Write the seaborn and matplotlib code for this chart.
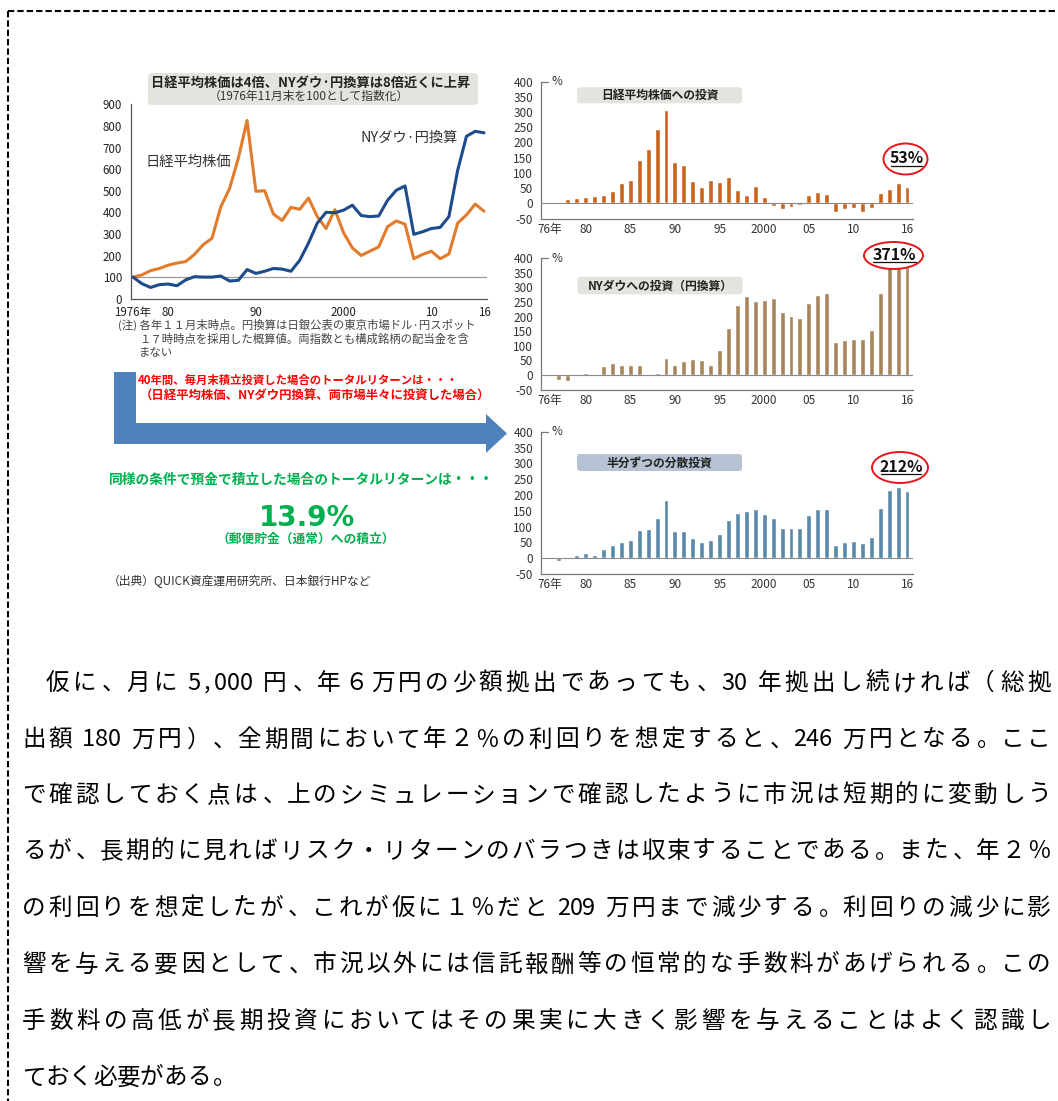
# -*- coding: utf-8 -*-
import numpy as np
import pandas as pd
import matplotlib
matplotlib.use('Agg')
import matplotlib.pyplot as plt
from matplotlib.patches import Ellipse, FancyBboxPatch, Polygon
import seaborn as sns

# ---- data -------------------------------------------------------------
years = list(range(1976, 2017))

# index, Nov 1976 = 100
nikkei_idx = [100, 110, 130, 140, 155, 165, 172, 205, 250, 280, 425, 510, 650, 825,
              497, 500, 392, 362, 423, 414, 466, 380, 325, 412,
              305, 235, 200, 220, 240, 333, 360, 345, 185, 205,
              220, 185, 207, 350, 388, 438, 405]
ny_idx = [100, 70, 52, 65, 68, 60, 87, 102, 100, 100, 105, 82, 85, 135,
          117, 127, 140, 137, 127, 178, 258, 350, 400, 398,
          410, 433, 385, 380, 383, 455, 502, 522, 298, 310,
          325, 330, 380, 595, 752, 775, 768]

# total return (%) of monthly accumulation
nikkei_ret = [0, 1, 13, 16, 22, 23, 26, 42, 67, 78, 141, 180, 245, 308,
              135, 127, 72, 55, 76, 70, 85, 44, 27, 57,
              22, -8, -20, -13, -5, 26, 37, 32, -30, -20,
              -14, -28, -17, 34, 48, 66, 53]
ny_ret = [0, -18, -22, 3, 8, -3, 30, 42, 35, 33, 34, 1, 7, 58,
          36, 47, 56, 50, 36, 86, 160, 240, 270, 255,
          257, 265, 215, 203, 197, 248, 275, 280, 112, 120,
          125, 125, 155, 282, 385, 388, 371]
half_ret = [0, -8, -3, 10, 16, 9, 28, 43, 50, 56, 88, 91, 126, 183,
            86, 87, 63, 52, 56, 78, 122, 142, 149, 155,
            139, 127, 97, 95, 95, 138, 155, 155, 42, 50,
            55, 48, 67, 158, 215, 225, 212]

line_ticks = [1976, 1980, 1990, 2000, 2010, 2016]
line_ticklabels = ['1976年', '80', '90', '2000', '10', '16']
bar_ticks = [1976, 1980, 1985, 1990, 1995, 2000, 2005, 2010, 2016]
bar_ticklabels = ['76年', '80', '85', '90', '95', '2000', '05', '10', '16']

panel_titles = ['日経平均株価への投資', 'NYダウへの投資（円換算）', '半分ずつの分散投資']
panel_last = ['53%', '371%', '212%']

paragraph = [
    '仮に、月に 5,000 円、年６万円の少額拠出であっても、30 年拠出し続ければ（総拠',
    '出額 180 万円）、全期間において年２％の利回りを想定すると、246 万円となる。ここ',
    'で確認しておく点は、上のシミュレーションで確認したように市況は短期的に変動しう',
    'るが、長期的に見ればリスク・リターンのバラつきは収束することである。また、年２％',
    'の利回りを想定したが、これが仮に１％だと 209 万円まで減少する。利回りの減少に影',
    '響を与える要因として、市況以外には信託報酬等の恒常的な手数料があげられる。この',
    '手数料の高低が長期投資においてはその果実に大きく影響を与えることはよく認識し',
    'ておく必要がある。',
]

# ---- setup ------------------------------------------------------------
sns.set_style('white')
plt.rcParams['font.family'] = ['Noto Sans CJK JP', 'DejaVu Sans']
plt.rcParams['axes.unicode_minus'] = False

W, H = 1058, 1101
fig = plt.figure(figsize=(W / 100, H / 100), dpi=100)


def px_axes(x0, y0, x1, y1):
    return fig.add_axes([x0 / W, 1 - y1 / H, (x1 - x0) / W, (y1 - y0) / H])


# ---- line chart -------------------------------------------------------
df_line = pd.DataFrame({'year': years * 2,
                        'value': nikkei_idx + ny_idx,
                        'series': ['日経平均株価'] * len(years) + ['NYダウ・円換算'] * len(years)})
ax = px_axes(131, 104.3, 487, 298.7)
ax.axhline(100, color='#9a9a9a', lw=0.9, zorder=1)
sns.lineplot(data=df_line, x='year', y='value', hue='series',
             palette=['#E27B2C', '#1D4B8C'], lw=2.2, legend=False, ax=ax)
ax.set_xlim(1975.77, 2016.34)
ax.set_ylim(0, 900)
ax.set_yticks(range(0, 901, 100))
ax.set_xticks(line_ticks)
ax.set_xticklabels(line_ticklabels)
ax.set_xticks(years, minor=True)
ax.set_xlabel('')
ax.set_ylabel('')
for s in ['top', 'right']:
    ax.spines[s].set_visible(False)
for s in ['left', 'bottom']:
    ax.spines[s].set_color('#555')
    ax.spines[s].set_linewidth(0.9)
ax.tick_params(axis='y', direction='out', length=3, pad=3.5, labelsize=8.3,
               colors='#555', labelcolor='#222')
ax.tick_params(axis='x', which='both', direction='in', length=3, pad=5,
               labelsize=8.3, colors='#555', labelcolor='#222')
ax.patch.set_alpha(0)

# ---- bar charts -------------------------------------------------------
bar_boxes = [(540.7, 81.7, 913, 218.5), (540.7, 258.3, 913, 389.6), (540.7, 431.7, 913, 574)]
bar_data = [nikkei_ret, ny_ret, half_ret]
bar_colors = ['#C9641F', '#A8865C', '#5A88A8']

for box, vals, col in zip(bar_boxes, bar_data, bar_colors):
    bx = px_axes(*box)
    sns.barplot(x=years, y=vals, color=col, saturation=1, width=0.55,
                native_scale=True, errorbar=None, ax=bx)
    bx.axhline(0, color='#8a8a8a', lw=0.8, zorder=3)
    bx.set_xlim(1974.96, 2016.67)
    bx.set_ylim(-50, 400)
    bx.set_yticks(range(-50, 401, 50))
    bx.set_xticks(bar_ticks)
    bx.set_xticklabels(bar_ticklabels)
    bx.set_xticks(years, minor=True)
    for s in ['top', 'right']:
        bx.spines[s].set_visible(False)
    for s in ['left', 'bottom']:
        bx.spines[s].set_color('#777')
        bx.spines[s].set_linewidth(0.9)
    bx.tick_params(axis='y', direction='out', length=3, pad=2.5, labelsize=8.5,
                   colors='#777', labelcolor='#333')
    bx.tick_params(axis='x', which='both', direction='in', length=3, pad=3,
                   labelsize=8.5, colors='#777', labelcolor='#333')
    bx.plot([1974.96, 1975.8], [400, 400], color='#777', lw=0.9, clip_on=False)
    bx.text(1976.2, 400, '%', ha='left', va='center', fontsize=8.5, color='#333')
    bx.set_xlabel('')
    bx.set_ylabel('')
    bx.patch.set_alpha(0)

# ---- overlay (pixel coordinates) -------------------------------------
ov = fig.add_axes([0, 0, 1, 1], zorder=10)
ov.set_xlim(0, W)
ov.set_ylim(H, 0)
ov.axis('off')
ov.patch.set_alpha(0)

# dashed frame
ov.plot([8, W], [11, 11], color='black', lw=1.5, ls=(0, (3, 1.5)))
ov.plot([8, 8], [11, H], color='black', lw=1.5, ls=(0, (3, 1.5)))

# line chart title box and labels
ov.add_patch(FancyBboxPatch((148, 73), 330, 32, boxstyle='round,pad=0,rounding_size=4',
                            fc='#E4E3DD', ec='none'))
ov.text(311, 82.5, '日経平均株価は4倍、NYダウ·円換算は8倍近くに上昇', ha='center', va='center',
        fontsize=9.5, fontweight='bold', color='#222')
ov.text(309, 96, '（1976年11月末を100として指数化）', ha='center', va='center',
        fontsize=8.5, color='#333')
ov.text(145, 161.5, '日経平均株価', ha='left', va='center', fontsize=10.3, color='#333')
ov.text(360, 138, 'NYダウ·円換算', ha='left', va='center', fontsize=10.3, color='#333')

ov.text(118, 325, '(注) 各年１１月末時点。円換算は日銀公表の東京市場ドル·円スポット',
        ha='left', va='center', fontsize=8.2, color='#444')
ov.text(139, 339.5, '１７時時点を採用した概算値。両指数とも構成銘柄の配当金を含',
        ha='left', va='center', fontsize=8.2, color='#444')
ov.text(139, 353, 'まない', ha='left', va='center', fontsize=8.2, color='#444')

# red caption and arrow
ov.text(138, 380.5, '40年間、毎月末積立投資した場合のトータルリターンは・・・',
        ha='left', va='center', fontsize=8.2, fontweight='bold', color='#FF0000')
ov.text(140, 396, '（日経平均株価、NYダウ円換算、両市場半々に投資した場合）',
        ha='left', va='center', fontsize=8.9, fontweight='bold', color='#FF0000')
arrow = [(114, 372), (136, 372), (136, 423), (486, 423), (486, 414), (507, 433.5),
         (486, 453), (486, 444), (114, 444)]
ov.add_patch(Polygon(arrow, closed=True, fc='#4F81BD', ec='none'))

# green caption
ov.text(301, 480, '同様の条件で預金で積立した場合のトータルリターンは・・・',
        ha='center', va='center', fontsize=9.9, fontweight='bold', color='#00B050')
ov.text(307, 518, '13.9%', ha='center', va='center', fontsize=20,
        fontweight='bold', color='#00B050', family='DejaVu Sans')
ov.text(306, 539.5, '（郵便貯金（通常）への積立）', ha='center', va='center',
        fontsize=9.2, fontweight='bold', color='#00B050')
ov.text(108, 581.5, '（出典）QUICK資産運用研究所、日本銀行HPなど', ha='left', va='center',
        fontsize=8.5, color='#333')

# panel title boxes
title_boxes = [(577, 87.3, 103.3), (577.5, 276.7, 294.3), (577, 454, 471)]
title_fc = ['#E4E3DD', '#E4E3DD', '#B7C3D4']
for (bx0, by0, by1), t, fc in zip(title_boxes, panel_titles, title_fc):
    ov.add_patch(FancyBboxPatch((bx0, by0), 165, by1 - by0,
                                boxstyle='round,pad=0,rounding_size=3', fc=fc, ec='none'))
    ov.text(bx0 + 82.5, (by0 + by1) / 2 + 0.5, t, ha='center', va='center',
            fontsize=8.5, fontweight='bold', color='#222')

# final value callouts
callouts = [(905.5, 159, 44, 31), (893.5, 255.5, 59, 27), (900, 467.5, 56, 31)]
for (cx, cy, ew, eh), lab in zip(callouts, panel_last):
    ov.add_patch(Ellipse((cx, cy), ew, eh, fc='white', ec='#E8161B', lw=1.4))
    ov.text(cx + 1, cy - 1, lab, ha='center', va='center', fontsize=11.5,
            fontweight='bold', color='#111')
    half_w = 0.34 * ew
    ov.plot([cx - half_w, cx + half_w + 2], [cy + 6.5, cy + 6.5], color='#111', lw=0.9)

# ---- paragraph --------------------------------------------------------
em = 23.6
line_y = [681.5, 738, 793.5, 849.5, 906.5, 963, 1019.5, 1076]
left_x, right_x = 22, 1051


def char_w(c):
    if c == ' ':
        return 0.35
    return 0.52 if ord(c) < 128 else 1.0


def gap_w(a, b):
    # justification weight between two neighbouring characters
    if a == ' ' or b == ' ':
        return 0.4
    if ord(a) < 128 and ord(b) < 128:
        return 0.2
    return 1.0


def draw_line(text, x0, x1, yc, justify=True):
    widths = [char_w(c) for c in text]
    weights = [gap_w(a, b) for a, b in zip(text[:-1], text[1:])] + [0]
    unit = (x1 - x0 - sum(widths) * em) / sum(weights) if justify else 0
    base = yc + 0.36 * em
    x = x0
    for c, w, g in zip(text, widths, weights):
        if c != ' ':
            if c in '、。）':
                ov.text(x + 0.1 * em, base, c, ha='left', va='baseline',
                        fontsize=17, color='black')
            elif c == '（':
                ov.text(x + w * em - 0.1 * em, base, c, ha='right', va='baseline',
                        fontsize=17, color='black')
            else:
                ov.text(x + w * em / 2, base, c, ha='center', va='baseline',
                        fontsize=17, color='black')
        x += w * em + g * unit


for i, (txt, yc) in enumerate(zip(paragraph, line_y)):
    x0 = left_x + em if i == 0 else left_x
    draw_line(txt, x0, right_x, yc, justify=(i < len(paragraph) - 1))

fig.savefig('out.png', dpi=100)
